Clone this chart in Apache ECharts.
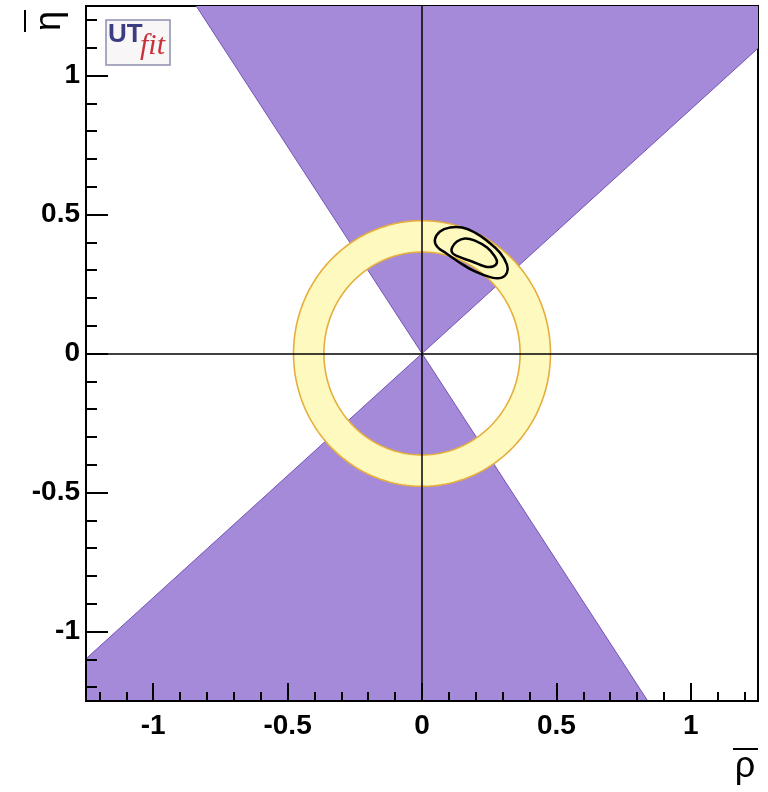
<!DOCTYPE html>
<html>
<head>
<meta charset="utf-8">
<script src="https://cdn.jsdelivr.net/npm/echarts@6/dist/echarts.min.js"></script>
<style>
  html, body { margin: 0; padding: 0; background: #fff; }
  #chart { width: 768px; height: 792px; }
</style>
</head>
<body>
<div id="chart"></div>
<script>
// axis range and ticks (same for rho and eta)
const axisRange = [-1.25, 1.25];
const majorTicks = [-1, -0.5, 0, 0.5, 1];
const minorTicks = [-1.2, -1.1, -0.9, -0.8, -0.7, -0.6, -0.4, -0.3, -0.2, -0.1,
                    0.1, 0.2, 0.3, 0.4, 0.6, 0.7, 0.8, 0.9, 1.1, 1.2];

// gamma constraint: band of angles (degrees) from origin, plus mirror through origin
const gammaBand = [41.3, 123.9];
// |Vub/Vcb| ring: inner / outer radius
const ringRadius = [0.365, 0.478];

// fit contours [rho, eta]
const contourOuter = [
  [0.048, 0.410], [0.067, 0.439], [0.104, 0.453], [0.149, 0.453], [0.197, 0.435],
  [0.245, 0.403], [0.290, 0.363], [0.316, 0.320], [0.316, 0.291], [0.297, 0.273],
  [0.260, 0.273], [0.197, 0.295], [0.134, 0.331], [0.086, 0.363], [0.056, 0.385]
];
const contourInner = [
  [0.112, 0.381], [0.130, 0.403], [0.160, 0.414], [0.197, 0.406], [0.242, 0.381],
  [0.271, 0.349], [0.279, 0.327], [0.264, 0.313], [0.234, 0.313], [0.186, 0.331],
  [0.134, 0.349], [0.112, 0.363]
];
const contours = [contourOuter, contourInner];

const purple = '#a58ad9';
const purpleEdge = '#7354b6';
const ringFill = '#fef9bf';
const ringEdge = '#e6ae3c';

const chart = echarts.init(document.getElementById('chart'));

const labelFont = { fontSize: 28, fontWeight: 'bold', color: '#000', fontFamily: 'Liberation Sans' };

function majorAxis(pos, len, margin) {
  return {
    type: 'value', min: axisRange[0], max: axisRange[1], position: pos, z: 10,
    axisLine: { show: true, onZero: false, lineStyle: { color: '#000', width: 2 } },
    axisTick: { show: true, inside: true, length: len, customValues: majorTicks,
      lineStyle: { color: '#000', width: 2 } },
    axisLabel: Object.assign({ customValues: majorTicks, margin: margin }, labelFont),
    splitLine: { show: false }
  };
}
function minorAxis(pos, len) {
  return {
    type: 'value', min: axisRange[0], max: axisRange[1], position: pos, z: 10,
    axisLine: { show: false, onZero: false },
    axisTick: { show: true, inside: true, length: len, customValues: minorTicks,
      lineStyle: { color: '#000', width: 2 } },
    axisLabel: { show: false },
    splitLine: { show: false }
  };
}

function renderGamma(params, api) {
  const k = api.value(0);
  const a0 = (gammaBand[0] + 180 * k) * Math.PI / 180;
  const a1 = (gammaBand[1] + 180 * k) * Math.PI / 180;
  const R = 4;
  const pts = [
    api.coord([0, 0]),
    api.coord([R * Math.cos(a0), R * Math.sin(a0)]),
    api.coord([R * Math.cos(a1), R * Math.sin(a1)])
  ];
  return { type: 'polygon', shape: { points: pts },
    style: { fill: purple, stroke: purpleEdge, lineWidth: 1 } };
}

function renderRing(params, api) {
  const N = 200;
  const outer = [], inner = [];
  for (let i = 0; i <= N; i++) {
    const t = 2 * Math.PI * i / N;
    outer.push(api.coord([ringRadius[1] * Math.cos(t), ringRadius[1] * Math.sin(t)]));
    inner.push(api.coord([ringRadius[0] * Math.cos(t), ringRadius[0] * Math.sin(t)]));
  }
  const band = outer.concat(inner.slice().reverse());
  return { type: 'group', children: [
    { type: 'polygon', shape: { points: band }, style: { fill: ringFill } },
    { type: 'polyline', shape: { points: outer }, style: { fill: null, stroke: ringEdge, lineWidth: 1.6 } },
    { type: 'polyline', shape: { points: inner }, style: { fill: null, stroke: ringEdge, lineWidth: 1.6 } }
  ] };
}

function renderContour(params, api) {
  const pts = contours[api.value(0)].map(p => api.coord(p));
  return { type: 'polygon', shape: { points: pts, smooth: 0.45 },
    style: { fill: null, stroke: '#000', lineWidth: 2.5 } };
}

const option = {
  animation: false,
  backgroundColor: '#fff',
  grid: { left: 86, top: 6, width: 672, height: 695, show: true,
    borderColor: '#000', borderWidth: 2, backgroundColor: '#fff' },
  xAxis: [majorAxis('bottom', 18, 11), minorAxis('bottom', 9)],
  yAxis: [majorAxis('left', 22, 6), minorAxis('left', 11)],
  series: [
    { type: 'custom', name: 'gamma', clip: true, z: 1,
      data: [[0, 0], [1, 0]], renderItem: renderGamma },
    { type: 'custom', name: 'vub', clip: true, z: 2,
      data: [[0, 0]], renderItem: renderRing },
    { type: 'custom', name: 'fit', clip: true, z: 4,
      data: [[0, 0], [1, 0]], renderItem: renderContour },
    { type: 'line', name: 'zero', data: [], z: 3,
      markLine: { silent: true, symbol: 'none', label: { show: false },
        lineStyle: { color: '#000', width: 1.5, type: 'solid' },
        data: [{ xAxis: 0 }, { yAxis: 0 }] } }
  ],
  graphic: [
    // rho-bar axis title
    { type: 'text', x: 745, y: 767, style: { text: 'ρ', font: '36px "Liberation Sans"',
      fill: '#000', align: 'center', verticalAlign: 'middle' } },
    { type: 'line', shape: { x1: 733, y1: 749, x2: 758, y2: 749 }, style: { stroke: '#000', lineWidth: 2 } },
    // eta-bar axis title (rotated)
    { type: 'group', x: 50, y: 21, rotation: Math.PI / 2, children: [
      { type: 'text', x: 0, y: 0, style: { text: 'η', font: '36px "Liberation Sans"',
        fill: '#000', align: 'center', verticalAlign: 'middle' } },
      { type: 'line', shape: { x1: -11, y1: -25, x2: 11, y2: -25 }, style: { stroke: '#000', lineWidth: 2 } }
    ] },
    // gamma label
    { type: 'text', x: 522, y: 47, style: { text: 'γ', font: '24px "DejaVu Sans"',
      fill: '#111', align: 'center', verticalAlign: 'middle' } },
    // UTfit logo
    { type: 'rect', shape: { x: 106, y: 20, width: 64, height: 45 },
      style: { fill: '#f8f6f6', stroke: '#8f8fb0', lineWidth: 1.5 } },
    { type: 'text', x: 108, y: 22, style: { text: 'UT', font: 'bold 26px "Liberation Sans"',
      fill: '#3b3c82' } },
    { type: 'text', x: 140, y: 31, style: { text: 'fit', font: 'italic 30px "Liberation Serif"',
      fill: '#c8303a' } }
  ]
};

chart.setOption(option);
</script>
</body>
</html>
